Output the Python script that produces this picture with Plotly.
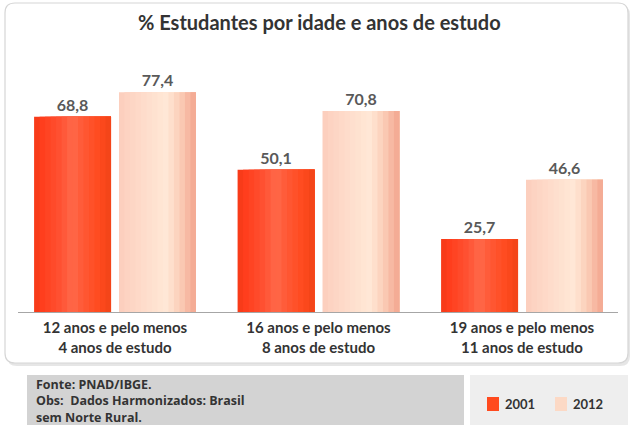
import plotly.graph_objects as go

categories = ["12 anos e pelo menos<br>4 anos de estudo",
              "16 anos e pelo menos<br>8 anos de estudo",
              "19 anos e pelo menos<br>11 anos de estudo"]
series_names = ["2001", "2012"]
values_2001 = [68.8, 50.1, 25.7]
values_2012 = [77.4, 70.8, 46.6]
title_text = "% Estudantes por idade e anos de estudo"
footer_lines = ["Fonte: PNAD/IBGE.", "Obs:  Dados Harmonizados: Brasil", "sem Norte Rural."]

W, H = 630, 425
L, R, T, B = 18, 12, 40, 113
PW, PH = W - L - R, H - T - B
BAR_W = 0.378
GAP = 0.0393
# horizontal gradient stops (position across bar, colour)
GRAD_2001 = [(0.0, "#F23A18"), (0.08, "#FF3C1A"), (0.35, "#FF5234"), (0.5, "#FF6A4A"),
             (0.62, "#FF5A38"), (0.85, "#FF4A1E"), (1.0, "#F04418")]
GRAD_2012 = [(0.0, "#FBCDBC"), (0.1, "#FDD3C2"), (0.4, "#FEDFCE"), (0.62, "#FFE8D6"),
             (0.78, "#FBD0BA"), (0.9, "#F7B8A2"), (1.0, "#F2A58E")]
N_STRIPS = 14

def px(x):
    return (x - L) / PW

def py(y):
    return (H - B - y) / PH

def fmt(v):
    return f"<b>{v:.1f}</b>".replace(".", ",")

def hex2rgb(h):
    h = h.lstrip("#")
    return [int(h[i:i + 2], 16) for i in (0, 2, 4)]

def grad_color(stops, t):
    for (t0, c0), (t1, c1) in zip(stops[:-1], stops[1:]):
        if t0 <= t <= t1:
            f = 0 if t1 == t0 else (t - t0) / (t1 - t0)
            a, b = hex2rgb(c0), hex2rgb(c1)
            return "rgb(%d,%d,%d)" % tuple(round(a[k] + (b[k] - a[k]) * f) for k in range(3))
    return stops[-1][1]

FONT = "Lato"
fig = go.Figure()
xs = list(range(len(categories)))
for vals, stops, base in [(values_2001, GRAD_2001, -BAR_W - GAP / 2),
                          (values_2012, GRAD_2012, GAP / 2)]:
    for i in range(N_STRIPS):
        start = BAR_W * i / N_STRIPS
        t = (i + 0.5) / N_STRIPS
        first = i == 0
        fig.add_trace(go.Bar(
            x=xs, y=vals, offset=base + start, width=BAR_W - start,
            marker=dict(color=grad_color(stops, t), line=dict(width=0)),
            text=[fmt(v) for v in vals] if first else None,
            textposition="outside" if first else "none",
            textfont=dict(family=FONT, size=16, color="#595959"),
            cliponaxis=False, hoverinfo="skip" if not first else "y",
            showlegend=False))

def rounded_path(x0, y0, x1, y1, r):
    def P(x, y):
        return f"{px(x):.5f},{py(y):.5f}"
    return (f"M {P(x0 + r, y0)} L {P(x1 - r, y0)} Q {P(x1, y0)} {P(x1, y0 + r)} "
            f"L {P(x1, y1 - r)} Q {P(x1, y1)} {P(x1 - r, y1)} "
            f"L {P(x0 + r, y1)} Q {P(x0, y1)} {P(x0, y1 - r)} "
            f"L {P(x0, y0 + r)} Q {P(x0, y0)} {P(x0 + r, y0)} Z")

shapes = [
    dict(type="path", xref="paper", yref="paper", layer="below",
         path=rounded_path(7, 5, 630, 366, 10), fillcolor="#E6E6E6", line=dict(width=0)),
    dict(type="path", xref="paper", yref="paper", layer="below",
         path=rounded_path(5, 3, 628, 363, 10), fillcolor="white",
         line=dict(color="#D6D6D6", width=1.2)),
    dict(type="rect", xref="paper", yref="paper", layer="below",
         x0=px(27), x1=px(464), y0=py(375), y1=py(425), fillcolor="#D3D3D3", line=dict(width=0)),
    dict(type="rect", xref="paper", yref="paper", layer="below",
         x0=px(470), x1=px(628), y0=py(375), y1=py(425), fillcolor="#EEEEEE", line=dict(width=0)),
    dict(type="rect", xref="paper", yref="paper",
         x0=px(487), x1=px(499), y0=py(411), y1=py(397), fillcolor="#FF4A1E", line=dict(width=0)),
    dict(type="rect", xref="paper", yref="paper",
         x0=px(555), x1=px(567), y0=py(411), y1=py(397), fillcolor="#FCD9C5", line=dict(width=0)),
]

annotations = [
    dict(text=f"<b>{title_text}</b>", xref="paper", yref="paper", x=px(319), y=py(22),
         showarrow=False, font=dict(family=FONT, size=20, color="#333333"),
         xanchor="center", yanchor="middle"),
    dict(text=f"<b>{series_names[0]}</b>", xref="paper", yref="paper", x=px(503), y=py(404),
         showarrow=False, xanchor="left", yanchor="middle",
         font=dict(family=FONT, size=13, color="#333333")),
    dict(text=f"<b>{series_names[1]}</b>", xref="paper", yref="paper", x=px(571), y=py(404),
         showarrow=False, xanchor="left", yanchor="middle",
         font=dict(family=FONT, size=13, color="#333333")),
    dict(text="<br>".join(f"<b>{ln}</b>" for ln in footer_lines), xref="paper", yref="paper",
         x=px(34), y=py(401), showarrow=False, xanchor="left", yanchor="middle", align="left",
         font=dict(family="Open Sans", size=12.5, color="#333333")),
]

fig.update_layout(
    width=W, height=H,
    margin=dict(l=L, r=R, t=T, b=B, autoexpand=False),
    paper_bgcolor="white", plot_bgcolor="rgba(0,0,0,0)",
    barmode="overlay",
    showlegend=False,
    xaxis=dict(range=[-0.4767, 2.4717], showline=True, linecolor="#A6A6A6", linewidth=1,
               ticks="", showgrid=False, zeroline=False,
               tickmode="array", tickvals=xs,
               ticktext=[f"<b>{c}</b>".replace("<br>", "</b><br><b>") for c in categories],
               tickfont=dict(family=FONT, size=15, color="#333333")),
    yaxis=dict(range=[0, 95.8], visible=False, showgrid=False, zeroline=False),
    shapes=shapes, annotations=annotations,
    font=dict(family=FONT),
)
fig.update_xaxes(ticklabelstandoff=2)

fig.write_html("out.html", config={"displayModeBar": False},
               post_script="document.body.style.margin='0';document.body.style.overflow='hidden';")
